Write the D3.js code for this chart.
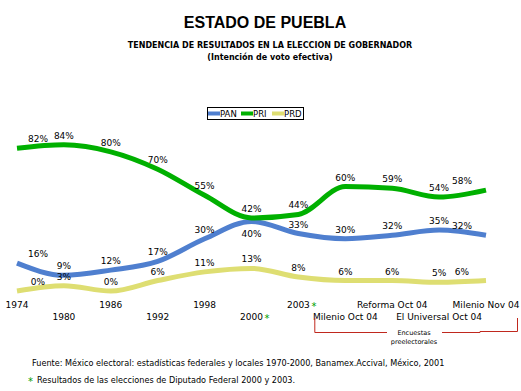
<!DOCTYPE html>
<html><head><meta charset="utf-8">
<script src="https://cdn.jsdelivr.net/npm/d3@7"></script>
<style>body{margin:0;background:#fff}svg{display:block}</style>
</head><body>
<svg id="c" width="521" height="391"></svg>
<script>
const categories = ["1974","1980","1986","1992","1998","2000","2003","Milenio Oct 04","Reforma Oct 04","El Universal Oct 04","Milenio Nov 04"];
const PAN = [16, 9, 12, 17, 30, 40, 33, 30, 32, 35, 32];
const PRI = [82, 84, 80, 70, 55, 42, 44, 60, 59, 54, 58];
const PRD = [0, 3, 0, 6, 11, 13, 8, 6, 6, 5, 6];
const seriesNames = ["PAN","PRI","PRD"];
const colors = {PAN:"#4f7fcf", PRI:"#00b000", PRD:"#dede72"};
const starred = ["2000","2003"];

const svg = d3.select("#c");
svg.append("rect").attr("width",521).attr("height",391).attr("fill","#fff");
const F = "DejaVu Sans, Verdana, sans-serif";

svg.append("text").attr("x",265).attr("y",28).attr("text-anchor","middle")
  .attr("font-family","Liberation Sans, Arial, sans-serif").attr("font-weight","bold").attr("font-size",16)
  .text("ESTADO DE PUEBLA");
svg.append("text").attr("x",270).attr("y",48).attr("text-anchor","middle")
  .attr("font-family",F).attr("font-weight","bold").attr("font-size",8)
  .text("TENDENCIA DE RESULTADOS EN LA ELECCION DE GOBERNADOR");
svg.append("text").attr("x",270).attr("y",60).attr("text-anchor","middle")
  .attr("font-family",F).attr("font-weight","bold").attr("font-size",8)
  .text("(Intención de voto efectiva)");

const x = d3.scalePoint().domain(categories).range([17, 486]);
const y = d3.scaleLinear().domain([0, 100]).range([291, 117]);

const data = {PAN, PRI, PRD};
const line = d3.line().x((d,i)=>x(categories[i])).y(d=>y(d)).curve(d3.curveMonotoneX);

["PRD","PAN","PRI"].forEach(s=>{
  svg.append("path").datum(data[s]).attr("d",line).attr("fill","none")
    .attr("stroke",colors[s]).attr("stroke-width",5).attr("stroke-linejoin","round");
});

seriesNames.forEach(s=>{
  data[s].forEach((v,i)=>{
    let lx = x(categories[i]);
    if (i===0) lx += 21;
    if (i===categories.length-1) lx -= 24;
    let ly = y(v) - 6;
    if (s==="PAN" && categories[i]==="2000") ly = y(v) + 16;
    svg.append("text").attr("x",lx).attr("y",ly).attr("text-anchor","middle")
      .attr("font-family",F).attr("font-size",9).attr("fill","#000").text(v+"%");
  });
});

categories.forEach((c,i)=>{
  const cx = x(c);
  const cy = i%2===0 ? 308 : 320;
  svg.append("text").attr("x",cx).attr("y",cy).attr("text-anchor","middle")
    .attr("font-family",F).attr("font-size",9).attr("fill","#000").text(c);
  if (starred.includes(c)) {
    svg.append("text").attr("x",cx+13).attr("y",cy+2).attr("font-family",F)
      .attr("font-size",10).attr("fill","#00a000").text("*");
  }
});

const lg = svg.append("g");
lg.append("rect").attr("x",207.5).attr("y",107.5).attr("width",96).attr("height",12)
  .attr("fill","#fff").attr("stroke","#000").attr("stroke-width",1);
const legX = [208, 241, 272];
seriesNames.forEach((s,i)=>{
  lg.append("rect").attr("x",legX[i]).attr("y",111.5).attr("width",12).attr("height",4).attr("fill",colors[s]);
  lg.append("text").attr("x",legX[i]+12).attr("y",117).attr("font-family",F).attr("font-size",8.5)
    .attr("fill","#000").text(s);
});

const red = "#c0281e";
const bx0 = x("Milenio Oct 04") - 31, bx1 = x("Milenio Nov 04") + 32;
svg.append("path").attr("fill","none").attr("stroke",red).attr("stroke-width",1)
  .attr("d",`M${bx0+0.5},318 V332.5 H387`);
svg.append("path").attr("fill","none").attr("stroke",red).attr("stroke-width",1)
  .attr("d",`M442,332.5 H480 V331.5 H${bx1-0.5} V318`);
svg.append("text").attr("x",414).attr("y",335).attr("text-anchor","middle")
  .attr("font-family",F).attr("font-size",6.5).attr("fill","#000").text("Encuestas");
svg.append("text").attr("x",414).attr("y",344).attr("text-anchor","middle")
  .attr("font-family",F).attr("font-size",6.5).attr("fill","#000").text("preelectorales");

svg.append("text").attr("x",32).attr("y",366).attr("font-family",F).attr("font-size",8.15).attr("fill","#000")
  .text("Fuente: México electoral: estadísticas federales y locales 1970-2000, Banamex.Accival, México, 2001");
svg.append("text").attr("x",28).attr("y",385).attr("font-family",F).attr("font-size",10).attr("fill","#00a000").text("*");
svg.append("text").attr("x",37).attr("y",383).attr("font-family",F).attr("font-size",8.15).attr("fill","#000")
  .text("Resultados de las elecciones de Diputado Federal 2000 y 2003.");
</script>
</body></html>
